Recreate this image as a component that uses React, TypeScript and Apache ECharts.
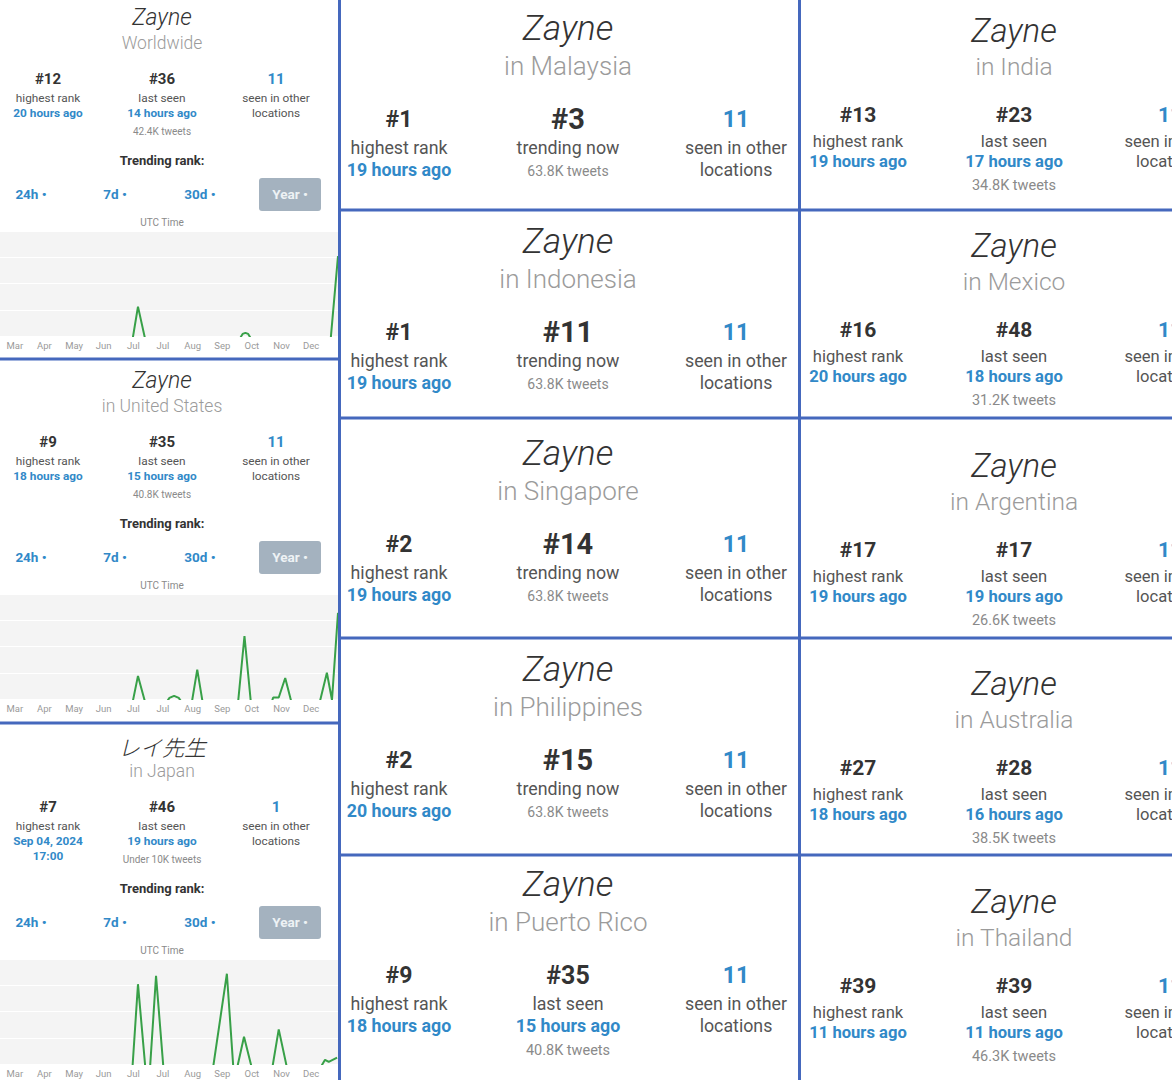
import React, { useEffect, useRef } from "react";
import * as echarts from "echarts";

// ---------- data ----------
const MONTHS = ["Mar", "Apr", "May", "Jun", "Jul", "Jul", "Aug", "Sep", "Oct", "Nov", "Dec"];

// [day of the year window, trending rank]; rank 52 = not in the top 50 (below the chart)
const worldwideRank: [number, number][] = [
  [0, 52], [143, 52], [149, 36], [157, 52], [258, 52], [262, 49], [265, 48.5], [268, 49], [272, 52],
  [357, 52], [365, 12],
];
const usRank: [number, number][] = [
  [0, 52], [143, 52], [149, 39], [157, 52], [179, 52], [183, 49.5], [188, 48.5], [193, 49.5], [197, 52],
  [207, 52], [213, 36], [219, 52], [257, 52], [264, 20], [271, 52], [293, 52], [295, 49.3], [301, 49.3],
  [308, 40], [315, 52], [345, 52], [353, 37.5], [358.5, 50.5], [365, 9],
];
const japanRank: [number, number][] = [
  [0, 52], [143, 52], [149, 12], [157, 52], [162, 52], [168.5, 8], [176.5, 52], [230, 52], [245, 7],
  [252, 52], [256, 52], [263.5, 37], [272, 52], [294, 52], [301, 33.5], [310, 52], [347, 51], [351, 48],
  [355, 49], [364, 47],
];

const leftTitles = ["Zayne", "Zayne", "レイ先生"];
const leftLocations = ["Worldwide", "in United States", "in Japan"];
const leftHighest = ["#12", "#9", "#7"];
const leftHighestWhen = [["20 hours ago"], ["18 hours ago"], ["Sep 04, 2024", "17:00"]];
const leftLast = ["#36", "#35", "#46"];
const leftLastWhen = ["14 hours ago", "15 hours ago", "19 hours ago"];
const leftTweets = ["42.4K tweets", "40.8K tweets", "Under 10K tweets"];
const leftOther = ["11", "11", "1"];
const rangeButtons = ["24h •", "7d •", "30d •"];
const activeButton = "Year •";

const midLocations = ["in Malaysia", "in Indonesia", "in Singapore", "in Philippines", "in Puerto Rico"];
const midHighest = ["#1", "#1", "#2", "#2", "#9"];
const midHighestWhen = ["19 hours ago", "19 hours ago", "19 hours ago", "20 hours ago", "18 hours ago"];
const midNow = ["#3", "#11", "#14", "#15", "#35"];
const midNowLabel = ["trending now", "trending now", "trending now", "trending now", "last seen"];
const midNowWhen = ["", "", "", "", "15 hours ago"];
const midTweets = ["63.8K tweets", "63.8K tweets", "63.8K tweets", "63.8K tweets", "40.8K tweets"];
const midOther = ["11", "11", "11", "11", "11"];

const rightLocations = ["in India", "in Mexico", "in Argentina", "in Australia", "in Thailand"];
const rightHighest = ["#13", "#16", "#17", "#27", "#39"];
const rightHighestWhen = ["19 hours ago", "20 hours ago", "19 hours ago", "18 hours ago", "11 hours ago"];
const rightLast = ["#23", "#48", "#17", "#28", "#39"];
const rightLastWhen = ["17 hours ago", "18 hours ago", "19 hours ago", "16 hours ago", "11 hours ago"];
const rightTweets = ["34.8K tweets", "31.2K tweets", "26.6K tweets", "38.5K tweets", "46.3K tweets"];
const rightOther = ["11", "11", "11", "11", "11"];

// ---------- styles / layout ----------
const FONT = "Roboto, 'Noto Sans', sans-serif";
const JP = "'Noto Sans CJK JP', sans-serif";
const DARK = "#333333";
const MID = "#555555";
const BLUE = "#3189c8";
const GRAY = "#8a8a8a";
const LOC = "#9b9b9b";
const BORDER = "#4568bd";
const GREEN = "#38a048";

const LEFT_Y = [0, 363, 728];
const MID_Y = [0, 213, 425, 641, 856];
const RIGHT_Y = [0, 215, 435, 653, 871];

function txt(text: string, x: number, y: number, size: number, color: string, weight: any = "normal", extra: any = {}) {
  return {
    type: "text",
    x,
    y,
    z: 10,
    silent: true,
    style: {
      text,
      fill: color,
      fontSize: size,
      fontWeight: weight,
      fontFamily: FONT,
      align: "center",
      verticalAlign: "middle",
      ...extra,
    },
  };
}

function line(x1: number, y1: number, x2: number, y2: number) {
  return {
    type: "line",
    z: 100,
    silent: true,
    shape: { x1, y1, x2, y2 },
    style: { stroke: BORDER, lineWidth: 3 },
  };
}

export default function App() {
  const ref = useRef<HTMLDivElement>(null);

  useEffect(() => {
    document.body.style.margin = "0";
    const chart = echarts.init(ref.current!, undefined, { renderer: "svg", width: 1172, height: 1080 });

    const graphic: any[] = [];

    // left panels
    LEFT_Y.forEach((o, k) => {
      graphic.push(
        k === 2
          ? txt(leftTitles[k], 162, o + 18, 22, DARK, 300, { fontStyle: "italic", fontFamily: JP })
          : txt(leftTitles[k], 162, o + 17, 23, DARK, 300, { fontStyle: "italic" })
      );
      graphic.push(txt(leftLocations[k], 162, o + 43, 17.5, LOC, 300));
      graphic.push(txt(leftHighest[k], 48, o + 79, 15, DARK, "bold"));
      graphic.push(txt("highest rank", 48, o + 98, 11.8, MID));
      leftHighestWhen[k].forEach((s, i) => graphic.push(txt(s, 48, o + 113 + i * 15, 11.8, BLUE, "bold")));
      graphic.push(txt(leftLast[k], 162, o + 79, 15, DARK, "bold"));
      graphic.push(txt("last seen", 162, o + 98, 11.8, MID));
      graphic.push(txt(leftLastWhen[k], 162, o + 113, 11.8, BLUE, "bold"));
      graphic.push(txt(leftTweets[k], 162, o + 131, 10, GRAY));
      graphic.push(txt(leftOther[k], 276, o + 79, 15, BLUE, "bold"));
      graphic.push(txt("seen in other", 276, o + 98, 11.8, MID));
      graphic.push(txt("locations", 276, o + 113, 11.8, MID));
      graphic.push(txt("Trending rank:", 162, o + 160, 13, DARK, "bold"));
      [31, 115, 200].forEach((x, i) => graphic.push(txt(rangeButtons[i], x, o + 194, 13.5, BLUE, "bold")));
      graphic.push({
        type: "rect",
        z: 5,
        silent: true,
        shape: { x: 259, y: o + 178, width: 62, height: 33, r: 3 },
        style: { fill: "#a4b2bf" },
      });
      graphic.push(txt(activeButton, 290, o + 194, 13.5, "#eef2f5", "bold"));
      graphic.push(txt("UTC Time", 162, o + 222, 10, GRAY));
    });

    // middle column cards
    MID_Y.forEach((o, i) => {
      graphic.push(txt("Zayne", 568, o + 28, 35, DARK, 300, { fontStyle: "italic" }));
      graphic.push(txt(midLocations[i], 568, o + 66, 26, LOC, 300));
      graphic.push(txt(midHighest[i], 399, o + 119, 23, DARK, "bold"));
      graphic.push(txt("highest rank", 399, o + 147, 17.8, MID));
      graphic.push(txt(midHighestWhen[i], 399, o + 169, 17.8, BLUE, "bold"));
      const trending = midNowLabel[i] === "trending now";
      graphic.push(txt(midNow[i], 568, o + 119, trending ? 29 : 25, DARK, "bold"));
      graphic.push(txt(midNowLabel[i], 568, o + 147, 17.8, MID));
      if (trending) {
        graphic.push(txt(midTweets[i], 568, o + 171, 14, GRAY));
      } else {
        graphic.push(txt(midNowWhen[i], 568, o + 169, 17.8, BLUE, "bold"));
        graphic.push(txt(midTweets[i], 568, o + 194, 14.5, GRAY));
      }
      graphic.push(txt(midOther[i], 736, o + 119, 23, BLUE, "bold"));
      graphic.push(txt("seen in other", 736, o + 147, 17.8, MID));
      graphic.push(txt("locations", 736, o + 169, 17.8, MID));
    });

    // right column cards
    RIGHT_Y.forEach((o, i) => {
      graphic.push(txt("Zayne", 1014, o + 30, 33, DARK, 300, { fontStyle: "italic" }));
      graphic.push(txt(rightLocations[i], 1014, o + 66, 24.5, LOC, 300));
      graphic.push(txt(rightHighest[i], 858, o + 115, 21, DARK, "bold"));
      graphic.push(txt("highest rank", 858, o + 141, 16.6, MID));
      graphic.push(txt(rightHighestWhen[i], 858, o + 161, 16.6, BLUE, "bold"));
      graphic.push(txt(rightLast[i], 1014, o + 115, 21, DARK, "bold"));
      graphic.push(txt("last seen", 1014, o + 141, 16.6, MID));
      graphic.push(txt(rightLastWhen[i], 1014, o + 161, 16.6, BLUE, "bold"));
      graphic.push(txt(rightTweets[i], 1014, o + 185, 14.5, GRAY));
      graphic.push(txt(rightOther[i], 1170, o + 115, 21, BLUE, "bold"));
      graphic.push(txt("seen in other", 1172, o + 141, 16.6, MID));
      graphic.push(txt("locations", 1170, o + 161, 16.6, MID));
    });

    // borders
    graphic.push(line(339.5, 0, 339.5, 1080));
    graphic.push(line(799.5, 0, 799.5, 1080));
    graphic.push(line(0, 359, 339.5, 359));
    graphic.push(line(0, 723, 339.5, 723));
    [210, 418, 638, 855].forEach((y) => graphic.push(line(339.5, y, 1172, y)));

    const rankSeries = [worldwideRank, usRank, japanRank];
    const grid: any[] = [];
    const xAxis: any[] = [];
    const yAxis: any[] = [];
    const series: any[] = [];

    LEFT_Y.forEach((o, k) => {
      const gi = k * 2;
      grid.push({
        left: 0,
        top: o + 231,
        width: 338,
        height: 105,
        show: true,
        backgroundColor: "#f4f4f4",
        borderWidth: 0,
      });
      grid.push({ left: 0, top: o + 231, width: 326, height: 105, show: false });
      xAxis.push({
        type: "value",
        gridIndex: gi,
        min: 0,
        max: 365,
        axisLabel: { show: false },
        axisLine: { show: false },
        axisTick: { show: false },
        splitLine: { show: false },
      });
      xAxis.push({
        type: "category",
        gridIndex: gi + 1,
        data: MONTHS,
        boundaryGap: true,
        axisLine: { show: false },
        axisTick: { show: false },
        splitLine: { show: false },
        axisLabel: { color: "#9a9a9a", fontSize: 9.5, margin: 4, interval: 0, fontFamily: FONT },
      });
      yAxis.push({
        type: "value",
        gridIndex: gi,
        inverse: true,
        min: 0,
        max: 50,
        interval: 12.5,
        axisLabel: { show: false },
        axisLine: { show: false },
        axisTick: { show: false },
        splitLine: { show: true, lineStyle: { color: "#ffffff", width: 1 } },
      });
      yAxis.push({ type: "value", gridIndex: gi + 1, show: false });
      series.push({
        type: "line",
        xAxisIndex: gi,
        yAxisIndex: gi,
        data: rankSeries[k],
        showSymbol: false,
        symbol: "none",
        clip: true,
        silent: true,
        lineStyle: { color: GREEN, width: 2 },
      });
    });

    chart.setOption({
      animation: false,
      backgroundColor: "#ffffff",
      grid,
      xAxis,
      yAxis,
      series,
      graphic: { elements: graphic },
    });

    return () => chart.dispose();
  }, []);

  return (
    <div
      ref={ref}
      style={{ width: 1172, height: 1080, position: "absolute", left: 0, top: 0, background: "#fff" }}
    />
  );
}
